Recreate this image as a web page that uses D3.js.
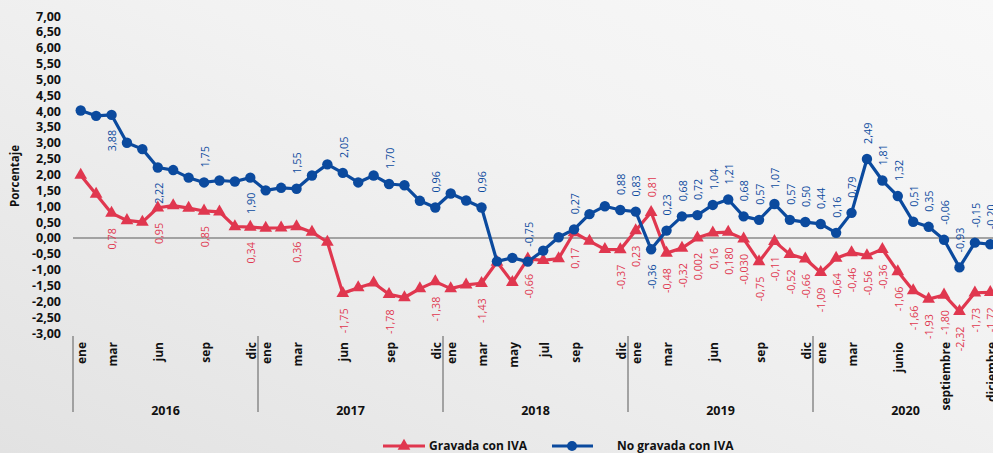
<!DOCTYPE html>
<html><head><meta charset="utf-8">
<script src="https://cdn.jsdelivr.net/npm/d3@7"></script>
<style>html,body{margin:0;padding:0;overflow:hidden;background:#eee}svg{display:block}</style>
</head><body>
<svg id="chart" width="993" height="453"></svg>
<script>
// ---- data ----
const years = ["2016", "2017", "2018", "2019", "2020"];
const monthTicks = [
  ["ene","","mar","","","jun","","","sep","","","dic"],
  ["ene","","mar","","","jun","","","sep","","","dic"],
  ["ene","","mar","","may","","jul","","sep","","","dic"],
  ["ene","","mar","","","jun","","","sep","","","dic"],
  ["ene","","mar","","","junio","","","septiembre","","","diciembre"]
];
const yTicks = [-3,-2.5,-2,-1.5,-1,-0.5,0,0.5,1,1.5,2,2.5,3,3.5,4,4.5,5,5.5,6,6.5,7];

// Gravada con IVA
const gravada2016 = [1.98, 1.38, 0.78, 0.55, 0.50, 0.95, 1.02, 0.94, 0.85, 0.82, 0.36, 0.34];
const gravada2017 = [0.31, 0.32, 0.36, 0.18, -0.13, -1.75, -1.57, -1.42, -1.78, -1.88, -1.60, -1.38];
const gravada2018 = [-1.60, -1.48, -1.43, -0.76, -1.40, -0.66, -0.71, -0.65, 0.17, -0.10, -0.36, -0.37];
const gravada2019 = [0.23, 0.81, -0.48, -0.32, 0.002, 0.16, 0.180, -0.030, -0.75, -0.11, -0.52, -0.66];
const gravada2020 = [-1.09, -0.64, -0.46, -0.56, -0.36, -1.06, -1.66, -1.93, -1.80, -2.32, -1.73, -1.72];

// No gravada con IVA
const noGravada2016 = [4.02, 3.85, 3.88, 3.00, 2.80, 2.22, 2.14, 1.90, 1.75, 1.81, 1.78, 1.90];
const noGravada2017 = [1.50, 1.58, 1.55, 1.97, 2.32, 2.05, 1.75, 1.97, 1.70, 1.66, 1.17, 0.96];
const noGravada2018 = [1.40, 1.18, 0.96, -0.74, -0.63, -0.75, -0.40, 0.02, 0.27, 0.75, 1.00, 0.88];
const noGravada2019 = [0.83, -0.36, 0.23, 0.68, 0.72, 1.04, 1.21, 0.68, 0.57, 1.07, 0.57, 0.50];
const noGravada2020 = [0.44, 0.16, 0.79, 2.49, 1.81, 1.32, 0.51, 0.35, -0.06, -0.93, -0.15, -0.20];

// which points carry a data label
const labeledIdx = [2,5,8,11,14,17,20,23,26,29,32,35].concat(d3.range(36,60));
const gravadaThreeDecimalIdx = [40, 42, 43];
const gravadaAbove = [37];
const noGravadaBelow = [2, 5, 11, 37];

const gravada = [].concat(gravada2016, gravada2017, gravada2018, gravada2019, gravada2020);
const noGravada = [].concat(noGravada2016, noGravada2017, noGravada2018, noGravada2019, noGravada2020);

// ---- layout ----
const RED = "#E0374F", BLUE = "#0B4A9E";
const svg = d3.select("#chart");
const W = 993, H = 453;
const mLeft = 73, mRight = 998, mTop = 16, mBottom = 333;

const defs = svg.append("defs");
const g = defs.append("linearGradient").attr("id","bg").attr("x1","0").attr("y1","1").attr("x2","1").attr("y2","0");
g.append("stop").attr("offset","0").attr("stop-color","#e2e2e2");
g.append("stop").attr("offset","0.6").attr("stop-color","#f2f2f2");
g.append("stop").attr("offset","1").attr("stop-color","#f8f8f8");
svg.append("rect").attr("width",W).attr("height",H).attr("fill","url(#bg)");

const cats = d3.range(60);
const x = d3.scaleBand().domain(cats).range([mLeft, mRight]);
const cx = i => x(i) + x.bandwidth()/2;
const y = d3.scaleLinear().domain([-3, 7]).range([mBottom, mTop]);

const font = "'Open Sans', 'Liberation Sans', sans-serif";

// y axis (labels only)
const yAxis = d3.axisLeft(y).tickValues(yTicks).tickSize(0).tickPadding(0)
  .tickFormat(d => d.toFixed(2).replace(".", ","));
const ya = svg.append("g").attr("transform", `translate(61,0)`).call(yAxis);
ya.select(".domain").remove();
ya.selectAll("text").attr("font-family", font).attr("font-weight", "bold")
  .attr("font-size", "12.5px").attr("fill", "#111");

svg.append("text").attr("transform", `translate(19,176) rotate(-90)`)
  .attr("text-anchor","middle").attr("font-family", font).attr("font-weight","bold")
  .attr("font-size","11.5px").attr("fill","#111").text("Porcentaje");

// zero line
svg.append("line").attr("x1", mLeft).attr("x2", W).attr("y1", y(0)).attr("y2", y(0))
  .attr("stroke", "#8a8a8a").attr("stroke-width", 1.5);

// x axis: month labels
const monthAxis = d3.axisBottom(x).tickSize(0)
  .tickFormat(i => monthTicks[Math.floor(i/12)][i%12]);
const xa = svg.append("g").attr("transform", `translate(0,${mBottom})`).call(monthAxis);
xa.select(".domain").remove();
xa.selectAll("text").attr("font-family", font).attr("font-weight","bold").attr("font-size","12px")
  .attr("fill","#111").attr("text-anchor","end")
  .attr("transform","rotate(-90)").attr("x",-9).attr("y",1.5).attr("dy","0.35em");

// year separators and labels
const sepX = d3.range(years.length + 1).map(k => k < years.length ? x(k*12) : x(59) + x.bandwidth());
svg.append("g").selectAll("line").data(sepX).join("line")
  .attr("x1", d => d).attr("x2", d => d).attr("y1", mBottom + 3).attr("y2", 412)
  .attr("stroke", "#8a8a8a").attr("stroke-width", 1.5);
svg.append("g").selectAll("text").data(years).join("text")
  .attr("x", (d,k) => (x(k*12) + x(k*12+11) + x.bandwidth())/2).attr("y", 415)
  .attr("text-anchor","middle").attr("font-family", font).attr("font-weight","bold")
  .attr("font-size","12.5px").attr("fill","#111").text(d => d);

// series
const line = d3.line().x((d,i) => cx(i)).y(d => y(d));
const tri = d3.symbol().type(d3.symbolTriangle).size(70);

svg.append("path").datum(gravada).attr("d", line).attr("fill","none")
  .attr("stroke", RED).attr("stroke-width", 3.2).attr("stroke-linejoin","round");
svg.append("g").selectAll("path").data(gravada).join("path")
  .attr("d", tri).attr("transform", (d,i) => `translate(${cx(i)},${y(d)})`).attr("fill", RED);

svg.append("path").datum(noGravada).attr("d", line).attr("fill","none")
  .attr("stroke", BLUE).attr("stroke-width", 3.2).attr("stroke-linejoin","round");
svg.append("g").selectAll("circle").data(noGravada).join("circle")
  .attr("cx", (d,i) => cx(i)).attr("cy", d => y(d)).attr("r", 5.2).attr("fill", BLUE);

// data labels
function labels(values, color, isAbove, threeDec) {
  const fmt = (v, i) => v.toFixed(threeDec.includes(i) ? 3 : 2).replace(".", ",");
  svg.append("g").selectAll("text").data(labeledIdx).join("text")
    .attr("transform", i => {
      const above = isAbove(i);
      const yy = above ? y(values[i]) - 15 : y(values[i]) + 15;
      return `translate(${cx(i)+1},${yy}) rotate(-90)`;
    })
    .attr("text-anchor", i => isAbove(i) ? "start" : "end")
    .attr("dy", "0.35em")
    .attr("font-family", font).attr("font-size", "10.8px").attr("fill", color)
    .text(i => fmt(values[i], i));
}
labels(gravada, RED, i => gravadaAbove.includes(i), gravadaThreeDecimalIdx);
labels(noGravada, BLUE, i => !noGravadaBelow.includes(i), []);

// legend
const leg = svg.append("g");
leg.append("line").attr("x1",383).attr("x2",425).attr("y1",446).attr("y2",446).attr("stroke",RED).attr("stroke-width",3);
leg.append("path").attr("d", tri).attr("transform","translate(404,446)").attr("fill",RED);
leg.append("text").attr("x",429).attr("y",446).attr("dy","0.35em").attr("font-family",font)
  .attr("font-weight","bold").attr("font-size","12px").attr("fill","#111").text("Gravada con IVA");
leg.append("line").attr("x1",552).attr("x2",593).attr("y1",446).attr("y2",446).attr("stroke",BLUE).attr("stroke-width",3);
leg.append("circle").attr("cx",572).attr("cy",446).attr("r",5).attr("fill",BLUE);
leg.append("text").attr("x",617).attr("y",446).attr("dy","0.35em").attr("font-family",font)
  .attr("font-weight","bold").attr("font-size","12px").attr("fill","#111").text("No gravada con IVA");
</script>
</body></html>
